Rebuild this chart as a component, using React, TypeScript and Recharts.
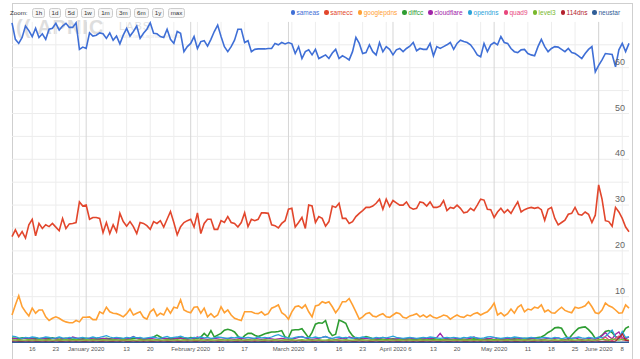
import { LineChart, Line, XAxis, YAxis, ReferenceLine } from "recharts";

// daily points, 10 Dec 2019 .. 10 Jun 2020 (x = days since 10 Dec)
const dayCount = 184;

const sameas = [
  69.8, 66.2, 65.3, 66.6, 69.1, 68.1, 66.8, 68.6, 66.6, 67.4,
  66.2, 68.4, 68.6, 69.7, 68.2, 69.1, 69.7, 68.8, 68.8, 69.8,
  64.0, 64.5, 64.2, 67.6, 66.9, 67.1, 67.6, 67.4, 66.4, 67.6,
  66.0, 66.9, 65.2, 67.1, 68.6, 66.9, 67.9, 69.1, 66.4, 67.5,
  68.4, 69.8, 67.5, 67.4, 66.8, 66.6, 68.4, 66.2, 65.3, 67.9,
  67.5, 63.5, 64.6, 65.3, 66.8, 64.2, 65.7, 65.9, 64.7, 66.2,
  67.9, 69.3, 66.8, 64.6, 63.5, 64.6, 66.0, 68.4, 68.4, 65.5,
  65.9, 63.5, 64.0, 64.1, 64.1, 64.1, 64.2, 64.2, 65.3, 65.0,
  65.5, 65.2, 65.5, 65.2, 63.1, 64.6, 62.0, 63.5, 63.9, 62.8,
  64.0, 62.0, 62.4, 62.8, 62.0, 63.2, 64.0, 62.0, 62.6, 62.2,
  61.7, 63.5, 66.6, 65.3, 63.1, 63.3, 65.0, 63.5, 62.8, 65.5,
  63.5, 64.6, 64.0, 62.8, 63.9, 64.2, 63.5, 64.2, 64.7, 65.5,
  63.7, 64.2, 64.0, 64.0, 65.3, 62.6, 64.6, 64.2, 64.6, 65.0,
  65.5, 64.0, 65.3, 66.0, 65.7, 65.5, 65.0, 64.0, 62.8, 62.4,
  65.3, 63.5, 65.0, 65.5, 65.0, 66.8, 65.5, 65.3, 64.2, 63.5,
  63.3, 63.9, 64.0, 63.1, 62.8, 62.6, 64.6, 66.2, 64.6, 63.5,
  64.2, 64.6, 64.5, 64.0, 63.5, 64.2, 63.3, 63.1, 62.6, 62.0,
  63.1, 64.0, 64.6, 59.1, 60.5, 61.7, 63.1, 63.0, 62.9, 60.2,
  63.9, 65.3, 63.5, 65.3,
];

const samecc = [
  23.1, 24.6, 23.1, 24.2, 22.8, 25.7, 26.9, 23.3, 26.0, 24.9,
  25.7, 25.3, 26.0, 25.2, 24.4, 27.1, 24.9, 25.9, 26.0, 26.2,
  30.7, 29.8, 30.0, 26.9, 27.3, 27.3, 27.1, 24.0, 26.2, 23.8,
  25.7, 24.2, 28.2, 26.4, 25.4, 26.4, 25.3, 23.8, 26.2, 26.0,
  25.5, 24.7, 26.4, 26.0, 26.6, 25.2, 26.9, 28.6, 26.2, 23.5,
  25.3, 26.2, 26.6, 26.9, 25.2, 28.3, 23.8, 26.0, 26.9, 26.9,
  24.7, 24.7, 26.6, 26.2, 27.5, 26.2, 26.0, 25.2, 26.2, 28.3,
  25.3, 26.9, 26.6, 26.9, 28.3, 28.3, 28.2, 25.7, 25.5, 25.0,
  26.0, 26.6, 29.1, 29.3, 25.2, 26.2, 27.3, 24.9, 30.0, 29.8,
  26.2, 27.5, 27.1, 25.4, 26.4, 29.8, 29.5, 30.4, 27.1, 27.1,
  26.0, 26.4, 27.5, 28.2, 28.8, 29.5, 29.5, 29.8, 30.4, 31.3,
  29.1, 31.3, 29.7, 31.0, 30.5, 30.0, 30.0, 30.7, 29.5, 29.1,
  29.3, 30.7, 30.5, 29.8, 30.7, 29.5, 29.5, 29.8, 31.0, 28.8,
  29.5, 29.3, 30.0, 29.3, 28.3, 28.5, 29.3, 28.8, 30.0, 31.3,
  31.1, 29.1, 29.0, 27.3, 28.5, 29.3, 28.3, 29.0, 28.2, 29.5,
  30.7, 28.5, 29.0, 29.3, 29.5, 29.3, 29.5, 29.0, 26.7, 29.1,
  29.5, 27.1, 25.7, 26.2, 26.7, 28.0, 28.2, 29.5, 28.0, 27.8,
  28.5, 28.0, 26.2, 27.8, 34.4, 31.3, 26.6, 26.4, 25.4, 29.5,
  28.5, 27.1, 25.2, 24.2,
];

const googlepdns = [
  6.0, 8.2, 10.2, 7.8, 6.7, 5.8, 7.5, 6.4, 7.1, 7.1,
  5.6, 4.8, 5.3, 5.6, 5.3, 4.8, 4.5, 4.3, 4.3, 4.8,
  4.5, 5.5, 5.5, 5.6, 5.0, 5.0, 6.7, 6.3, 7.7, 6.7,
  6.4, 6.3, 6.0, 5.6, 6.3, 7.3, 6.0, 6.4, 6.7, 5.5,
  5.1, 6.7, 7.3, 5.8, 6.4, 6.0, 7.5, 6.4, 7.7, 7.5,
  9.3, 7.1, 6.7, 6.5, 7.7, 7.8, 6.4, 7.5, 5.6, 6.3,
  5.5, 6.0, 7.8, 6.5, 7.1, 6.0, 5.3, 5.0, 4.8, 6.7,
  6.7, 6.7, 6.4, 6.3, 6.7, 6.0, 6.3, 7.5, 7.8, 8.2,
  6.5, 6.0, 5.1, 6.7, 7.8, 8.0, 7.5, 8.2, 6.7, 5.6,
  8.0, 8.2, 8.9, 8.6, 8.9, 7.8, 6.5, 7.5, 8.9, 8.9,
  9.6, 8.2, 6.7, 5.1, 5.6, 6.3, 6.5, 5.8, 5.6, 6.0,
  6.3, 5.6, 5.5, 6.0, 6.5, 6.3, 5.5, 5.3, 5.8, 6.0,
  6.3, 5.6, 6.0, 5.5, 6.0, 5.5, 5.3, 5.6, 6.0, 5.8,
  5.1, 5.6, 6.0, 5.6, 5.5, 6.0, 5.8, 6.3, 6.5, 6.0,
  6.4, 6.7, 7.5, 8.6, 6.0, 6.5, 5.8, 6.3, 7.3, 6.4,
  7.7, 8.2, 6.7, 7.3, 7.1, 7.7, 7.5, 8.2, 6.7, 7.1,
  6.5, 6.4, 7.1, 7.7, 7.0, 6.7, 6.5, 7.7, 7.5, 7.7,
  8.0, 8.9, 7.8, 6.5, 6.3, 7.1, 8.6, 8.0, 7.7, 7.1,
  6.4, 6.5, 8.2, 7.5,
];

const diffcc = [
  1.0, 0.9, 0.8, 1.0, 0.9, 0.8, 0.9, 1.0, 0.8, 0.9,
  0.8, 0.9, 1.0, 0.8, 0.7, 0.8, 0.9, 0.8, 0.7, 0.8,
  0.7, 0.8, 0.9, 0.8, 0.7, 0.8, 0.7, 0.8, 0.9, 0.8,
  0.7, 0.8, 0.9, 0.8, 0.7, 0.8, 0.9, 1.0, 0.8, 0.7,
  0.8, 0.9, 1.2, 1.6, 1.2, 0.9, 0.8, 0.9, 0.8, 0.9,
  1.0, 0.9, 0.8, 1.1, 1.0, 0.9, 1.2, 2.0, 1.3, 2.6,
  1.2, 1.6, 2.0, 2.7, 2.9, 2.7, 2.3, 1.4, 0.7, 1.5,
  2.0, 2.0, 1.6, 1.3, 1.6, 1.9, 2.1, 2.3, 2.3, 2.4,
  2.6, 1.2, 1.0, 2.7, 2.8, 2.8, 3.0, 2.0, 1.0, 2.2,
  4.0, 4.3, 4.2, 4.8, 2.5, 1.5, 1.8, 4.9, 4.6, 4.2,
  2.5, 1.5, 0.9, 0.7, 1.0, 1.3, 1.1, 0.8, 0.7, 0.8,
  0.7, 0.6, 0.7, 0.8, 0.7, 0.6, 0.7, 0.8, 0.7, 0.6,
  0.7, 0.8, 0.7, 0.6, 0.7, 0.8, 0.7, 0.6, 0.7, 0.8,
  0.7, 0.6, 0.7, 0.8, 0.7, 0.6, 0.7, 0.8, 0.7, 0.6,
  0.7, 0.8, 0.7, 0.6, 0.7, 0.8, 0.7, 0.6, 0.7, 0.8,
  0.7, 0.8, 0.9, 0.8, 0.9, 1.0, 1.1, 1.2, 1.6, 2.2,
  2.6, 3.2, 3.3, 3.1, 1.8, 0.7, 1.6, 2.4, 3.1, 3.3,
  3.4, 2.8, 2.0, 0.9, 1.0, 1.6, 2.4, 2.6, 2.2, 1.3,
  0.9, 1.9, 3.1, 3.5,
];

const cloudflare = [
  0.8, 0.9, 0.7, 0.8, 1.0, 0.9, 0.8, 0.7, 0.8, 0.9,
  0.8, 0.7, 0.9, 0.8, 0.7, 0.8, 0.9, 0.8, 1.2, 1.0,
  0.8, 0.7, 0.8, 0.9, 0.8, 0.7, 0.8, 0.9, 0.8, 0.7,
  0.8, 0.9, 0.8, 0.7, 0.8, 0.9, 1.3, 0.9, 0.8, 0.7,
  0.8, 0.9, 0.8, 0.7, 0.8, 0.9, 0.8, 0.7, 0.8, 1.0,
  0.9, 0.8, 0.7, 0.8, 0.9, 1.2, 0.9, 0.8, 0.7, 0.8,
  0.9, 0.8, 0.7, 0.8, 0.9, 0.8, 0.7, 0.8, 0.9, 0.8,
  0.7, 0.8, 0.9, 0.8, 0.7, 0.8, 0.9, 0.8, 0.7, 0.8,
  0.9, 0.8, 0.7, 0.8, 0.9, 1.1, 1.3, 1.0, 0.8, 0.7,
  0.8, 0.9, 1.1, 1.3, 1.0, 0.8, 0.7, 0.8, 0.9, 0.8,
  1.2, 1.0, 0.8, 0.7, 0.8, 0.9, 0.8, 0.7, 0.8, 0.9,
  1.1, 0.9, 0.8, 0.7, 0.8, 0.9, 0.8, 0.7, 0.8, 0.9,
  0.8, 0.7, 0.8, 0.9, 0.8, 1.0, 1.1, 2.0, 1.0, 0.8,
  0.7, 0.8, 0.9, 0.8, 0.7, 0.8, 0.9, 1.2, 0.9, 0.8,
  0.7, 0.8, 0.9, 1.1, 0.8, 0.7, 0.8, 0.9, 0.8, 0.7,
  0.8, 0.9, 0.8, 0.7, 0.8, 0.9, 0.8, 0.7, 0.8, 0.9,
  0.8, 0.9, 1.0, 0.8, 0.7, 0.8, 0.9, 1.0, 0.8, 0.7,
  0.8, 0.9, 0.8, 0.7, 1.0, 1.5, 2.2, 1.3, 0.8, 1.8,
  2.3, 1.0, 0.8, 1.2,
];

const opendns = [
  1.4, 1.3, 1.0, 0.9, 1.1, 1.0, 1.2, 1.1, 0.9, 1.0,
  1.2, 1.1, 0.9, 1.0, 1.2, 1.0, 0.9, 1.1, 1.0, 0.9,
  1.0, 1.1, 0.9, 1.0, 1.2, 1.0, 1.1, 1.3, 1.5, 1.2,
  1.0, 1.1, 1.0, 0.9, 1.1, 1.0, 1.2, 1.0, 1.1, 0.9,
  1.0, 1.1, 1.2, 1.0, 0.9, 1.1, 1.3, 1.0, 1.1, 1.2,
  1.4, 1.1, 1.0, 0.9, 1.1, 1.0, 1.2, 1.0, 1.1, 0.9,
  1.0, 1.2, 1.1, 1.0, 0.9, 1.1, 1.0, 1.2, 1.1, 1.0,
  1.1, 1.0, 0.9, 1.2, 1.0, 1.1, 1.0, 1.2, 1.5, 1.7,
  1.4, 1.1, 1.0, 0.9, 1.1, 1.3, 1.2, 1.0, 1.1, 1.0,
  1.2, 1.0, 1.1, 1.3, 1.0, 0.9, 1.1, 1.2, 1.0, 1.1,
  1.0, 0.9, 1.1, 1.0, 1.2, 1.1, 1.0, 0.9, 1.1, 1.0,
  1.1, 1.0, 1.2, 1.4, 1.1, 1.0, 0.9, 1.0, 1.1, 1.0,
  0.9, 1.0, 1.1, 1.0, 1.2, 1.1, 1.0, 0.9, 1.0, 1.1,
  1.0, 1.1, 1.0, 0.9, 1.1, 1.0, 1.2, 1.1, 1.0, 0.9,
  1.0, 1.2, 1.3, 1.1, 1.0, 0.9, 1.0, 1.1, 1.0, 1.2,
  1.1, 1.0, 0.9, 1.0, 1.1, 1.0, 0.9, 1.0, 1.1, 1.0,
  0.9, 1.1, 1.0, 0.8, 1.0, 1.1, 0.9, 1.0, 1.2, 1.0,
  0.9, 1.1, 1.0, 0.9, 1.2, 1.0, 1.3, 2.0, 2.7, 1.2,
  0.8, 2.4, 1.1, 1.3,
];

const quad9 = [
  0.4, 0.3, 0.4, 0.3, 0.3, 0.4, 0.3, 0.4, 0.3, 0.3,
  0.4, 0.3, 0.3, 0.4, 0.5, 0.3, 0.3, 0.4, 0.3, 0.4,
  0.3, 0.3, 0.4, 0.3, 0.4, 0.3, 0.3, 0.4, 0.3, 0.3,
  0.4, 0.3, 0.4, 0.5, 0.3, 0.3, 0.4, 0.3, 0.3, 0.4,
  0.3, 0.4, 0.3, 0.3, 0.4, 0.3, 0.4, 0.3, 0.3, 0.4,
  0.3, 0.3, 0.4, 0.3, 0.4, 0.5, 0.3, 0.3, 0.4, 0.3,
  0.3, 0.4, 0.3, 0.3, 0.4, 0.3, 0.3, 0.4, 0.3, 0.4,
  0.3, 0.3, 0.4, 0.3, 0.3, 0.4, 0.3, 0.4, 0.3, 0.3,
  0.4, 0.3, 0.3, 0.4, 0.3, 0.5, 0.4, 0.3, 0.3, 0.4,
  0.3, 0.4, 0.3, 0.3, 0.4, 0.3, 0.3, 0.4, 0.3, 0.3,
  0.4, 0.3, 0.3, 0.4, 0.3, 0.3, 0.4, 0.3, 0.4, 0.3,
  0.3, 0.4, 0.3, 0.3, 0.4, 0.3, 0.3, 0.4, 0.3, 0.3,
  0.4, 0.3, 0.4, 0.3, 0.3, 0.4, 0.3, 0.3, 0.4, 0.3,
  0.3, 0.3, 0.4, 0.3, 0.4, 0.3, 0.3, 0.4, 0.3, 0.4,
  0.3, 0.4, 0.3, 0.3, 0.4, 0.3, 0.4, 0.3, 0.3, 0.4,
  0.3, 0.3, 0.4, 0.3, 0.3, 0.4, 0.3, 0.4, 0.3, 0.3,
  0.4, 0.3, 0.3, 0.4, 0.3, 0.3, 0.4, 0.3, 0.3, 0.4,
  0.3, 0.4, 0.3, 0.3, 0.5, 0.7, 1.2, 0.6, 0.4, 0.9,
  1.4, 0.6, 0.4, 0.5,
];

const level3 = [
  0.6, 0.5, 0.6, 0.5, 0.5, 0.6, 0.5, 0.5, 0.6, 0.5,
  0.5, 0.6, 0.5, 0.5, 0.6, 0.5, 0.6, 0.5, 0.5, 0.6,
  0.5, 0.5, 0.6, 0.5, 0.6, 0.5, 0.5, 0.6, 0.5, 0.5,
  0.6, 0.5, 0.5, 0.6, 0.5, 0.6, 0.5, 0.5, 0.6, 0.5,
  0.5, 0.6, 0.5, 0.6, 0.5, 0.5, 0.6, 0.5, 0.5, 0.6,
  0.5, 0.6, 0.5, 0.5, 0.6, 0.5, 0.6, 0.5, 0.5, 0.6,
  0.5, 0.5, 0.6, 0.5, 0.6, 0.5, 0.5, 0.6, 0.5, 0.5,
  0.6, 0.5, 0.6, 0.5, 0.5, 0.6, 0.5, 0.5, 0.6, 0.5,
  0.5, 0.6, 0.5, 0.6, 0.5, 0.5, 0.6, 0.5, 0.6, 0.5,
  0.5, 0.6, 0.5, 0.5, 0.6, 0.5, 0.6, 0.5, 0.5, 0.6,
  0.5, 0.5, 0.6, 0.5, 0.6, 0.5, 0.5, 0.6, 0.5, 0.5,
  0.6, 0.5, 0.6, 0.5, 0.5, 0.6, 0.5, 0.5, 0.6, 0.5,
  0.5, 0.6, 0.5, 0.6, 0.5, 0.5, 0.6, 0.5, 0.6, 0.5,
  0.5, 0.6, 0.5, 0.5, 0.6, 0.5, 0.6, 0.5, 0.5, 0.6,
  0.5, 0.5, 0.6, 0.5, 0.6, 0.5, 0.5, 0.6, 0.5, 0.5,
  0.6, 0.5, 0.6, 0.5, 0.5, 0.6, 0.5, 0.5, 0.6, 0.5,
  0.5, 0.6, 0.5, 0.6, 0.5, 0.5, 0.6, 0.5, 0.6, 0.5,
  0.5, 0.6, 0.5, 0.5, 0.6, 0.7, 0.6, 0.5, 0.8, 0.6,
  0.5, 0.7, 0.6, 0.5,
];

const dns114 = [
  0.2, 0.1, 0.2, 0.2, 0.1, 0.2, 0.1, 0.2, 0.2, 0.1,
  0.2, 0.1, 0.2, 0.1, 0.2, 0.2, 0.1, 0.2, 0.1, 0.2,
  0.1, 0.2, 0.2, 0.1, 0.2, 0.1, 0.2, 0.2, 0.1, 0.2,
  0.2, 0.1, 0.2, 0.1, 0.2, 0.2, 0.1, 0.2, 0.1, 0.2,
  0.1, 0.2, 0.2, 0.1, 0.2, 0.1, 0.2, 0.2, 0.1, 0.2,
  0.2, 0.1, 0.2, 0.1, 0.2, 0.2, 0.1, 0.2, 0.1, 0.2,
  0.1, 0.2, 0.2, 0.1, 0.2, 0.1, 0.2, 0.2, 0.1, 0.2,
  0.2, 0.1, 0.2, 0.1, 0.2, 0.2, 0.1, 0.2, 0.1, 0.2,
  0.1, 0.2, 0.2, 0.1, 0.2, 0.1, 0.2, 0.2, 0.1, 0.2,
  0.2, 0.1, 0.2, 0.1, 0.2, 0.2, 0.1, 0.2, 0.1, 0.2,
  0.1, 0.2, 0.2, 0.1, 0.2, 0.1, 0.2, 0.2, 0.1, 0.2,
  0.2, 0.1, 0.2, 0.1, 0.2, 0.2, 0.1, 0.2, 0.1, 0.2,
  0.1, 0.2, 0.2, 0.1, 0.2, 0.1, 0.2, 0.2, 0.1, 0.2,
  0.2, 0.1, 0.2, 0.1, 0.2, 0.2, 0.1, 0.2, 0.1, 0.2,
  0.1, 0.2, 0.2, 0.1, 0.2, 0.1, 0.2, 0.2, 0.1, 0.2,
  0.2, 0.1, 0.2, 0.1, 0.2, 0.2, 0.1, 0.2, 0.1, 0.2,
  0.1, 0.2, 0.2, 0.1, 0.2, 0.1, 0.2, 0.2, 0.1, 0.2,
  0.2, 0.1, 0.2, 0.1, 0.2, 0.2, 0.3, 0.2, 0.2, 0.3,
  1.0, 1.9, 0.5, 0.3,
];

const neustar = [
  0.05, 0.05, 0.05, 0.05, 0.05, 0.05, 0.05, 0.05, 0.05, 0.05,
  0.05, 0.05, 0.05, 0.05, 0.05, 0.05, 0.05, 0.05, 0.05, 0.05,
  0.05, 0.05, 0.05, 0.05, 0.05, 0.05, 0.05, 0.05, 0.05, 0.05,
  0.05, 0.05, 0.05, 0.05, 0.05, 0.05, 0.05, 0.05, 0.05, 0.05,
  0.05, 0.05, 0.05, 0.05, 0.05, 0.05, 0.05, 0.05, 0.05, 0.05,
  0.05, 0.05, 0.05, 0.05, 0.05, 0.05, 0.05, 0.05, 0.05, 0.05,
  0.05, 0.05, 0.05, 0.05, 0.05, 0.05, 0.05, 0.05, 0.05, 0.05,
  0.05, 0.05, 0.05, 0.05, 0.05, 0.05, 0.05, 0.05, 0.05, 0.05,
  0.05, 0.05, 0.05, 0.05, 0.05, 0.05, 0.05, 0.05, 0.05, 0.05,
  0.05, 0.05, 0.05, 0.05, 0.05, 0.05, 0.05, 0.05, 0.05, 0.05,
  0.05, 0.05, 0.05, 0.05, 0.05, 0.05, 0.05, 0.05, 0.05, 0.05,
  0.05, 0.05, 0.05, 0.05, 0.05, 0.05, 0.05, 0.05, 0.05, 0.05,
  0.05, 0.05, 0.05, 0.05, 0.05, 0.05, 0.05, 0.05, 0.05, 0.05,
  0.05, 0.05, 0.05, 0.05, 0.05, 0.05, 0.05, 0.05, 0.05, 0.05,
  0.05, 0.05, 0.05, 0.05, 0.05, 0.05, 0.05, 0.05, 0.05, 0.05,
  0.05, 0.05, 0.05, 0.05, 0.05, 0.05, 0.05, 0.05, 0.05, 0.05,
  0.05, 0.05, 0.05, 0.05, 0.05, 0.05, 0.05, 0.05, 0.05, 0.05,
  0.05, 0.05, 0.05, 0.05, 0.05, 0.05, 0.05, 0.05, 0.05, 0.05,
  0.05, 0.05, 0.05, 0.05,
];

const seriesNames = ["sameas", "samecc", "googlepdns", "diffcc", "cloudflare", "opendns", "quad9", "level3", "114dns", "neustar"];
const seriesValues = [sameas, samecc, googlepdns, diffcc, cloudflare, opendns, quad9, level3, dns114, neustar];

// x ticks: Mondays get a grid line, month starts a darker one
const mondayDays = [6, 13, 20, 27, 34, 41, 48, 55, 62, 69, 76, 83, 90, 97, 104, 111, 118, 125, 132, 139, 146, 153, 160, 167, 174, 181];
const monthDays = [22, 53, 82, 113, 143, 174];
const tickDays = [6, 13, 22, 34, 41, 53, 62, 69, 82, 90, 97, 104, 113, 118, 125, 132, 143, 153, 160, 167, 174, 181];
const tickLabels = ["16", "23", "January 2020", "13", "20", "February 2020", "10", "17", "March 2020", "9", "16", "23", "April 2020", "6", "13", "20", "May 2020", "11", "18", "25", "June 2020", "8"];
const yTicks = [10, 20, 30, 40, 50, 60];
const yGrid = [5, 10, 15, 20, 25, 30, 35, 40, 45, 50, 55, 60, 65];
const zoomButtons = ["1h", "1d", "5d", "1w", "1m", "3m", "6m", "1y", "max"];

const colors = ["#3f6fd6", "#e2462c", "#ffa033", "#2e9d32", "#a024a8", "#2ba3d9", "#e8467d", "#78b82c", "#b3212e", "#2f5d97"];
const font = "'Liberation Sans', Arial, sans-serif";

const rows = Array.from({ length: dayCount }, (_, i) => {
  const r: Record<string, number> = { day: i };
  seriesNames.forEach((n, k) => (r[n] = seriesValues[k][i]));
  return r;
});

function DateTick(props: any) {
  const { x, y, payload } = props;
  const label = tickLabels[tickDays.indexOf(payload.value)];
  return (
    <text x={x} y={y + 8.5} textAnchor="middle" fontSize={6} fill="#555" fontFamily={font}>
      {label}
    </text>
  );
}

function ValueTick(props: any) {
  const { y, payload } = props;
  // labels sit inside the plot, right-aligned just left of its edge
  return (
    <text x={625} y={y - 3} textAnchor="end" fontSize={9} fill="#666" fontFamily={font}>
      {payload.value}
    </text>
  );
}

export default function App() {
  return (
    <div style={{ position: "fixed", left: 0, top: 0, width: 640, height: 359, background: "#fff", overflow: "hidden", fontFamily: font }}>
      {/* faint APNIC Labs watermark */}
      <div style={{ position: "absolute", left: 16, top: 16, color: "#dedede", fontWeight: 700, fontSize: 20, letterSpacing: 1 }}>
        (( APNIC
      </div>
      <div style={{ position: "absolute", left: 119, top: 20, color: "#e2e2e2", fontSize: 11, letterSpacing: 1 }}>LABS</div>
      <div style={{ position: "absolute", left: 119, top: 33, color: "#e8e8e8", fontSize: 6 }}>stats.labs.apnic.net/dns</div>

      <div style={{ position: "absolute", left: 12, top: 3, width: 619, height: 370, border: "1px solid #cfcfcf" }} />

      <div style={{ position: "absolute", left: 0, top: 0 }}>
        <LineChart width={640} height={359} data={rows} margin={{ top: 21.9, right: 10, bottom: 0.5, left: 12 }}>
          {yGrid.map((v) => (
            <ReferenceLine key={"h" + v} y={v} stroke="#ececec" strokeWidth={1} />
          ))}
          {mondayDays.map((d) => (
            <ReferenceLine key={"w" + d} x={d} stroke="#ededed" strokeWidth={1} />
          ))}
          {monthDays.map((d) => (
            <ReferenceLine key={"m" + d} x={d} stroke="#d6d6d6" strokeWidth={1} />
          ))}
          <XAxis
            dataKey="day"
            type="number"
            domain={[0, dayCount - 1]}
            ticks={tickDays}
            interval={0}
            tick={<DateTick />}
            tickSize={0}
            tickMargin={0}
            tickLine={false}
            axisLine={false}
            height={16}
          />
          <YAxis
            orientation="right"
            type="number"
            domain={[0, 70]}
            ticks={yTicks}
            interval={0}
            tick={<ValueTick />}
            tickSize={0}
            tickMargin={0}
            tickLine={false}
            axisLine={false}
            width={1}
          />
          {seriesNames.map((n, k) => (
            <Line
              key={n}
              type="linear"
              dataKey={n}
              stroke={colors[k]}
              strokeWidth={k < 4 ? 1.6 : 1.3}
              dot={false}
              isAnimationActive={false}
            />
          ))}
        </LineChart>
      </div>

      {/* range selector */}
      <div style={{ position: "absolute", left: 10, top: 7.5, display: "flex", alignItems: "center", gap: 3.3, fontSize: 6.2 }}>
        <span style={{ color: "#333", marginRight: 1.5 }}>Zoom:</span>
        {zoomButtons.map((b) => (
          <span
            key={b}
            style={{
              border: "1px solid #cccccc",
              borderRadius: 2.5,
              background: "#f7f7f7",
              color: "#333",
              padding: "0 2px",
              height: 8,
              lineHeight: "8px",
            }}
          >
            {b}
          </span>
        ))}
      </div>

      {/* legend */}
      <div style={{ position: "absolute", left: 290.5, top: 9, display: "flex", alignItems: "center", gap: 5, fontSize: 6.5 }}>
        {seriesNames.map((n, k) => (
          <span key={n} style={{ display: "flex", alignItems: "center", color: colors[k] }}>
            <span style={{ width: 4.5, height: 4.5, borderRadius: "50%", background: colors[k], marginRight: 1.5 }} />
            {n}
          </span>
        ))}
      </div>
    </div>
  );
}
